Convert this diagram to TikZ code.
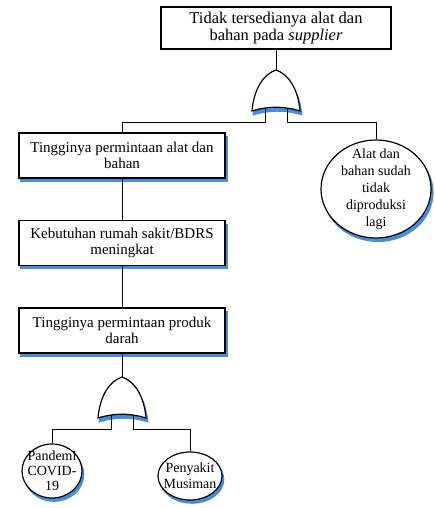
\documentclass[tikz,border=0pt]{standalone}
\usepackage{fontspec}
\setmainfont{Liberation Serif}
\usetikzlibrary{shapes.geometric,shadows}
\definecolor{shblue}{RGB}{74,140,214}
\tikzset{
 sh/.style={drop shadow={shadow xshift=2pt, shadow yshift=-3.5pt, shadow scale=1.01, fill=shblue, opacity=1}},
 topbox/.style={draw, line width=1.1pt, fill=white, minimum width=230pt, minimum height=42pt, align=center, inner sep=0pt, font=\fontsize{16.5}{17}\selectfont},
 evbox/.style={draw, line width=1.2pt, fill=white, sh, minimum width=206pt, minimum height=45pt, align=center, inner sep=0pt, font=\fontsize{15}{16}\selectfont},
 basic/.style={draw, ellipse, line width=1.2pt, fill=white, sh, inner sep=0pt},
 ctext/.style={align=center, inner sep=0pt, font=\fontsize{14}{17}\selectfont},
 conn/.style={line width=0.9pt},
 orgate/.pic={
   \fill[shblue, shift={(1.5pt,-3pt)}, scale=1.04] (-24,-41) .. controls (-22,-18) and (-12,-4) .. (0,0) .. controls (12,-4) and (22,-18) .. (24,-41) .. controls (8,-36) and (-8,-36) .. (-24,-41) -- cycle;
   \filldraw[fill=white, line width=1.2pt] (-24,-41) .. controls (-22,-18) and (-12,-4) .. (0,0) .. controls (12,-4) and (22,-18) .. (24,-41) .. controls (8,-36) and (-8,-36) .. (-24,-41) -- cycle;
   \coordinate (-top) at (0,0);
   \coordinate (-l) at (-11,-38);
   \coordinate (-r) at (11,-38);
   \coordinate (-lb) at (-11,-52.5);
   \coordinate (-rb) at (11,-52.5);
 }
}
\begin{document}
\begin{tikzpicture}[x=1pt,y=1pt]
\useasboundingbox (0,0) rectangle (435,-508);
\node[topbox] (top) at (276,-28) {Tidak tersedianya alat dan\\bahan pada \textit{supplier}};
\pic (g1) at (276,-70) {orgate};
\node[evbox] (b2) at (122,-155.5) {Tingginya permintaan alat dan\\bahan};
\node[evbox] (b3) at (122,-243) {Kebutuhan rumah sakit/BDRS\\meningkat};
\node[evbox] (b4) at (122,-330.5) {Tingginya permintaan produk\\darah};
\node[basic, minimum width=110pt, minimum height=98pt] (alat) at (376,-189) {};
\node[ctext] (alatt) at (alat.center) {Alat dan\\bahan sudah\\tidak\\diproduksi\\lagi};
\pic (g2) at (122,-377) {orgate};
\node[basic, minimum width=60pt, minimum height=54pt] (pand) at (52,-471) {};
\node[ctext, font=\fontsize{14}{15}\selectfont] (pandt) at (pand.center) {Pandemi\\COVID-\\19};
\node[basic, minimum width=64pt, minimum height=48pt] (peny) at (190,-476) {};
\node[ctext, font=\fontsize{14}{16}\selectfont] (penyt) at (peny.center) {Penyakit\\Musiman};
\draw[conn] (top.south) -- (g1-top);
\draw[conn] (g1-l) -- (g1-lb) -| (b2.north);
\draw[conn] (g1-r) -- (g1-rb) -| (alat.north);
\draw[conn] (b2.south) -- (b3.north);
\draw[conn] (b3.south) -- (b4.north);
\draw[conn] (b4.south) -- (g2-top);
\draw[conn] (g2-l) -- (g2-lb) -| (pand.north);
\draw[conn] (g2-r) -- (g2-rb) -| (peny.north);
\end{tikzpicture}
\end{document}
